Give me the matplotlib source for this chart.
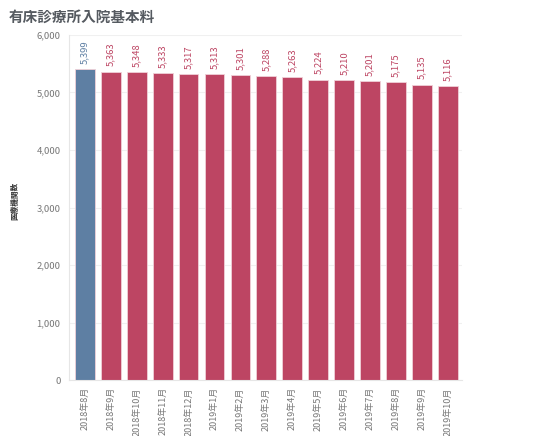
import matplotlib
matplotlib.use('Agg')
import matplotlib.pyplot as plt
from matplotlib.ticker import FuncFormatter

plt.rcParams['font.family'] = ['Noto Sans CJK JP', 'DejaVu Sans']

months = ['2018年8月', '2018年9月', '2018年10月', '2018年11月', '2018年12月',
          '2019年1月', '2019年2月', '2019年3月', '2019年4月', '2019年5月',
          '2019年6月', '2019年7月', '2019年8月', '2019年9月', '2019年10月']
counts = [5399, 5363, 5348, 5333, 5317, 5313, 5301, 5288, 5263, 5224,
          5210, 5201, 5175, 5135, 5116]
ylabel = '医療機関数'

blue = '#5e7fa3'
red = '#bd4563'
colors = [blue] + [red] * (len(counts) - 1)

fig = plt.figure(figsize=(5.6, 4.36), dpi=100)
ax = fig.add_axes([0.123, 0.128, 0.702, 0.792])

x = range(len(counts))
ax.bar(x, counts, width=0.76, color=colors, edgecolor='#f0d0d8', linewidth=0.6)

for i, v in enumerate(counts):
    ax.text(i, v + 90, f'{v:,}', rotation=90, ha='center', va='bottom',
            fontsize=6.8, color=colors[i])

ax.set_xlim(-0.62, len(counts) - 0.45)
ax.set_ylim(0, 6000)
ax.set_yticks([0, 1000, 2000, 3000, 4000, 5000, 6000])
ax.yaxis.set_major_formatter(FuncFormatter(lambda v, p: f'{int(v):,}'))
ax.grid(axis='y', color='#f0f0f0', linewidth=0.8)
ax.set_axisbelow(True)

ax.set_xticks(list(x))
ax.set_xticklabels(months, rotation=90, fontsize=6.5, color='#777777')
ax.tick_params(axis='y', labelsize=6.8, colors='#777777', length=0, pad=6)
ax.tick_params(axis='x', length=0, pad=5)

for s in ['top', 'right']:
    ax.spines[s].set_visible(False)
ax.spines['left'].set_color('#e6e6e6')
ax.spines['bottom'].set_color('#e6e6e6')

fig.text(0.027, 0.54, ylabel, rotation=90, fontsize=5.5, fontweight='bold',
         color='#333333', ha='center', va='center')

fig.text(0.015, 0.962, '有床診療所入院基本料', fontsize=10.5, fontweight='bold',
         color='#555a60', ha='left', va='center')

fig.savefig('out.png', dpi=100)
